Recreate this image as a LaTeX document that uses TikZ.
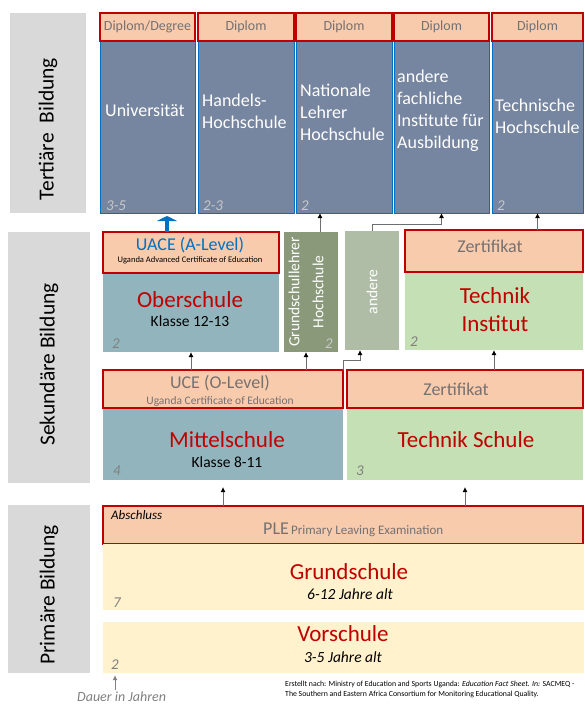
\documentclass[tikz,border=0pt]{standalone}
\usepackage{fontspec}
\setmainfont{Carlito}
\usetikzlibrary{arrows.meta}

\definecolor{stufengrau}{RGB}{217,217,217}
\definecolor{hochblau}{RGB}{118,133,160}
\definecolor{randblau}{RGB}{0,112,192}
\definecolor{pfirsich}{RGB}{248,203,173}
\definecolor{dunkelrot}{RGB}{192,0,0}
\definecolor{schulteal}{RGB}{146,181,189}
\definecolor{lehrergruen}{RGB}{138,153,122}
\definecolor{anderegruen}{RGB}{176,189,166}
\definecolor{hellgruen}{RGB}{197,224,180}
\definecolor{hellgelb}{RGB}{255,242,204}
\definecolor{textgrau}{RGB}{118,113,113}
\definecolor{jahrgrau}{RGB}{128,128,128}
\definecolor{jahrhell}{RGB}{200,200,200}
\definecolor{pfeilgrau}{RGB}{110,110,110}

\tikzset{
  kasten/.style={anchor=north west, inner sep=0pt, outer sep=0pt},
  stufe/.style={kasten, fill=stufengrau},
  stufetext/.style={rotate=90, font=\fontsize{21.5}{22}\selectfont},
  hoch/.style={kasten, fill=hochblau, draw=randblau, line width=1pt},
  diplom/.style={kasten, fill=pfirsich, draw=dunkelrot, line width=1.2pt, text=textgrau, font=\fontsize{14}{16}\selectfont},
  zeugnis/.style={kasten, fill=pfirsich, draw=dunkelrot, line width=1.2pt},
  hochtext/.style={anchor=west, inner sep=0pt, align=left, text=white, font=\fontsize{18}{22}\selectfont},
  schulname/.style={anchor=base, inner sep=0pt, text=dunkelrot, font=\fontsize{23}{26}\selectfont},
  klasse/.style={anchor=base, inner sep=0pt, font=\fontsize{15.5}{18}\selectfont},
  grautext/.style={anchor=base, inner sep=0pt, text=textgrau, font=\fontsize{18}{20}\selectfont},
  jahr/.style={anchor=base west, inner sep=0pt, text=jahrgrau, font=\fontsize{15}{15}\selectfont\itshape},
  quelle/.style={anchor=base west, inner sep=0pt, font=\fontsize{7.8}{9}\selectfont},
  pfeil/.style={draw=pfeilgrau, line width=0.9pt, -{Latex[length=5pt,width=5pt,color=black]}},
  blaupfeil/.style={draw=randblau, line width=3.5pt, -{Triangle[width=20pt,length=5pt]}}
}

\begin{document}
\begin{tikzpicture}[x=1pt, y=-1pt]
\useasboundingbox (0,0) rectangle (584,704);

% Stufen
\node[stufe, minimum width=76, minimum height=200] (tert) at (10,13) {};
\node[stufetext] (terttext) at ([yshift=-16pt]tert.center) {Tertiäre~ Bildung};
\node[stufe, minimum width=82, minimum height=251] (sek) at (8,232) {};
\node[stufetext] (sektext) at ([yshift=-7pt]sek.center) {Sekundäre Bildung};
\node[stufe, minimum width=82, minimum height=168] (prim) at (8,505) {};
\node[stufetext] (primtext) at ([yshift=-6pt]prim.center) {Primäre Bildung};

% Tertiaere Bildung
\node[hoch, minimum width=95, minimum height=172] (uni) at (100,41) {};
\node[hoch, minimum width=96, minimum height=172] (handel) at (198,41) {};
\node[hoch, minimum width=96, minimum height=172] (lehrer) at (296,41) {};
\node[hoch, minimum width=95, minimum height=172] (fach) at (394,41) {};
\node[hoch, minimum width=91, minimum height=172] (techhs) at (492,41) {};
\node[diplom, minimum width=95, minimum height=28] (dipuni) at (100,13) {Diplom/Degree};
\node[diplom, minimum width=96, minimum height=28] (diphandel) at (198,13) {Diplom};
\node[diplom, minimum width=96, minimum height=28] (diplehrer) at (296,13) {Diplom};
\node[diplom, minimum width=95, minimum height=28] (dipfach) at (394,13) {Diplom};
\node[diplom, minimum width=91, minimum height=28] (diptech) at (492,13) {Diplom};

\node[hochtext] (unitext) at (105,110) {Universität};
\node[hochtext] (handeltext) at (202,111) {Handels-\\Hochschule};
\node[hochtext] (lehrertext) at (300,112) {Nationale\\Lehrer\\Hochschule};
\node[hochtext] (fachtext) at (397,111) {andere\\fachliche\\Institute für\\Ausbildung};
\node[hochtext] (techtext) at (495,116) {Technische\\Hochschule};

\node[jahr, text=jahrhell] (unijahr) at (106,210) {3-5};
\node[jahr, text=jahrhell] (handeljahr) at (203,210) {2-3};
\node[jahr, text=jahrhell] (lehrerjahr) at (301,210) {2};
\node[jahr, text=jahrhell] (techjahr) at (497,210) {2};

% Sekundaere Bildung, oben
\node[kasten, fill=schulteal, minimum width=176, minimum height=79] (ober) at (103,273) {};
\node[zeugnis, minimum width=176, minimum height=41] (uace) at (103,232) {};
\node[grautext, text=randblau] (uacetext) at (190,250) {UACE (A-Level)};
\node[anchor=base, inner sep=0pt, font=\fontsize{8.5}{9}\selectfont] (uacelang) at (190,262) {Uganda Advanced Certificate of Education};
\node[schulname] (obertext) at (190,307) {Oberschule};
\node[klasse] (oberklasse) at (190,326) {Klasse 12-13};
\node[jahr] (oberjahr) at (112,348) {2};

\node[kasten, fill=lehrergruen, minimum width=54, minimum height=120] (gslehrer) at (284,232) {};
\node[rotate=90, align=center, text=white, font=\fontsize{15.5}{24}\selectfont] (gslehrertext) at (306,292) {Grundschullehrer\\Hochschule};
\node[jahr, text=jahrhell] (gslehrerjahr) at (325,348) {2};

\node[kasten, fill=anderegruen, minimum width=54, minimum height=119] (andere) at (345,231) {};
\node[rotate=90, text=white, font=\fontsize{15.5}{18}\selectfont] (anderetext) at (372,292) {andere};

\node[kasten, fill=hellgruen, minimum width=178, minimum height=78] (techinst) at (405,272) {};
\node[zeugnis, minimum width=178, minimum height=42] (zertinst) at (405,230) {};
\node[grautext] (zertinsttext) at (490,252) {Zertifikat};
\node[schulname] (techinsttext) at (495,303) {Technik};
\node[schulname] (techinsttext2) at (495,331) {Institut};
\node[jahr] (techinstjahr) at (410,346) {2};

% Sekundaere Bildung, unten
\node[kasten, fill=schulteal, minimum width=240, minimum height=72] (mittel) at (103,408) {};
\node[zeugnis, minimum width=240, minimum height=38] (uce) at (103,370) {};
\node[grautext] (ucetext) at (220,388) {UCE (O-Level)};
\node[anchor=base, inner sep=0pt, text=textgrau, font=\fontsize{11.5}{12}\selectfont] (ucelang) at (220,404) {Uganda Certificate of Education};
\node[schulname] (mitteltext) at (227,447) {Mittelschule};
\node[klasse] (mittelklasse) at (227,467) {Klasse 8-11};
\node[jahr] (mitteljahr) at (113,475) {4};

\node[kasten, fill=hellgruen, minimum width=236, minimum height=72] (tschule) at (347,408) {};
\node[zeugnis, minimum width=236, minimum height=38] (zertschule) at (347,370) {};
\node[grautext] (zertschuletext) at (456,395) {Zertifikat};
\node[schulname] (tschuletext) at (466,447) {Technik Schule};
\node[jahr] (tschulejahr) at (356,475) {3};

% Primaere Bildung
\node[zeugnis, minimum width=480, minimum height=38] (ple) at (103,506) {};
\node[anchor=base west, inner sep=0pt, font=\fontsize{13}{14}\selectfont\itshape] (abschluss) at (111,519) {Abschluss};
\node[anchor=base west, inner sep=0pt, text=textgrau] (pletext) at (263,534) {{\fontsize{18}{18}\selectfont PLE} {\fontsize{13}{14}\selectfont Primary Leaving Examination}};
\node[kasten, fill=hellgelb, minimum width=481, minimum height=66] (grund) at (103,544) {};
\node[schulname] (grundtext) at (349,579) {Grundschule};
\node[klasse, font=\fontsize{15.5}{18}\selectfont\itshape] (grundalter) at (350,599) {6-12 Jahre alt};
\node[jahr] (grundjahr) at (113,607) {7};

\node[kasten, fill=hellgelb, minimum width=481, minimum height=51] (vor) at (103,622) {};
\node[schulname] (vortext) at (343,641) {Vorschule};
\node[klasse, font=\fontsize{15.5}{18}\selectfont\itshape] (voralter) at (343,662) {3-5 Jahre alt};
\node[jahr] (vorjahr) at (111,669) {2};

\node[anchor=base west, inner sep=0pt, text=jahrgrau, font=\fontsize{14}{15}\selectfont\itshape] (dauer) at (77,701) {Dauer in Jahren};
\node[quelle] (quelle1) at (285,686) {Erstellt nach: Ministry of Education and Sports Uganda: \textit{Education Fact Sheet. In:} SACMEQ -};
\node[quelle] (quelle2) at (285,696) {The Southern and Eastern Africa Consortium for Monitoring Educational Quality.};

% Verbindungen
\coordinate (uacepfeil) at ([xshift=-24pt]uace.north);
\draw[blaupfeil, shorten >=3pt] (uacepfeil) -- (uacepfeil |- uni.south);
\coordinate (gsoben) at ([xshift=9pt]gslehrer.north);
\draw[pfeil] (gsoben) -- (gsoben |- lehrer.south);
\draw[pfeil] (andere.north) -- ++(0,-7) -| (fach.south);
\draw[pfeil] (zertinst.north -| techhs.south) -- (techhs.south);

\draw[pfeil] (uce.north -| ober.south) -- (ober.south);
\coordinate (gsunten) at ([xshift=-5pt]gslehrer.south);
\draw[pfeil] (gsunten |- uce.north) -- (gsunten);
\coordinate (andereunten) at ([xshift=-12pt]andere.south);
\draw[pfeil] (uce.north east) -- ++(0,-10) -| (andereunten);
\draw[pfeil] (zertschule.north -| techinst.south) -- (techinst.south);

\draw[pfeil, shorten >=7pt] (ple.north -| mittel.south) -- (mittel.south);
\draw[pfeil, shorten >=7pt] (ple.north -| tschule.south) -- (tschule.south);
\draw[pfeil, draw=jahrgrau, -{Latex[length=5pt,width=5pt,color=jahrgrau]}, shorten >=6pt] ([yshift=1pt]dauer.north -| vorjahr) -- (vorjahr.south);
\end{tikzpicture}
\end{document}
